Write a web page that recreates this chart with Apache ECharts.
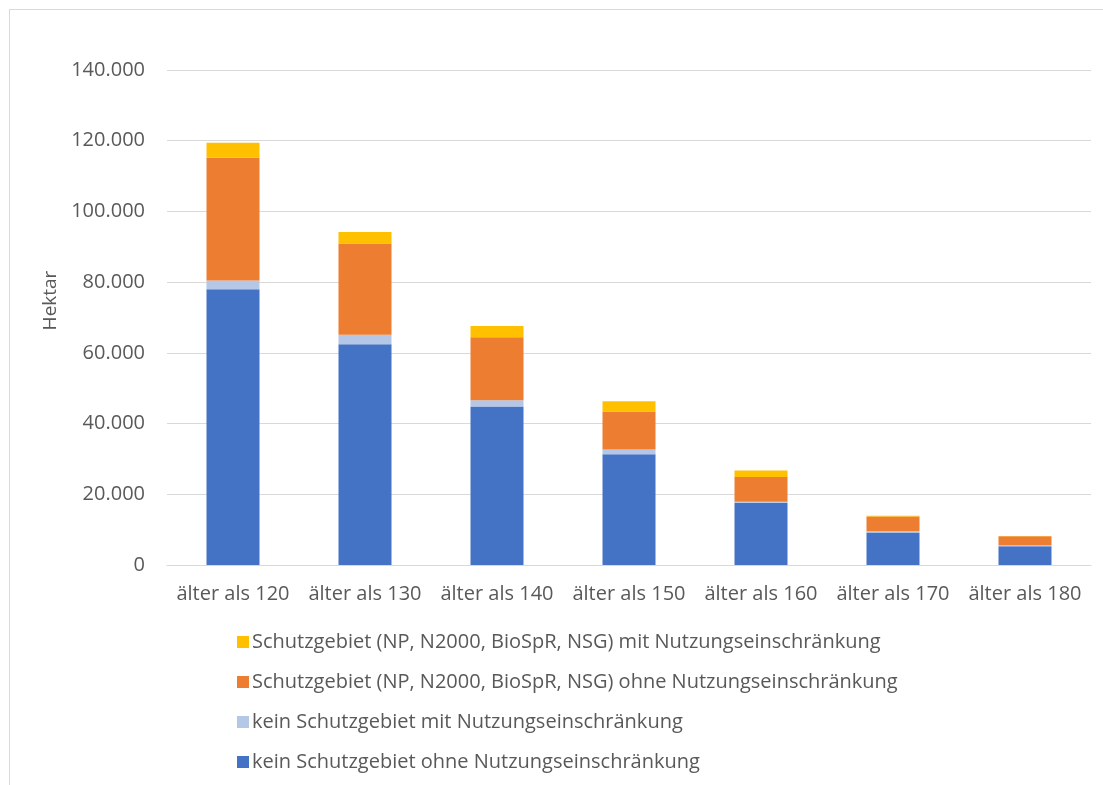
<!DOCTYPE html>
<html>
<head>
<meta charset="utf-8">
<script src="https://cdn.jsdelivr.net/npm/echarts@6/dist/echarts.min.js"></script>
<style>
  html, body { margin: 0; padding: 0; background: #fff; }
  #frame { position: absolute; left: 9px; top: 9px; width: 1100px; height: 790px; border-left: 1px solid #d9d9d9; border-top: 1px solid #d9d9d9; }
  #chart { position: absolute; left: 0; top: 0; width: 1103px; height: 785px; }
</style>
</head>
<body>
<div id="frame"></div>
<div id="chart"></div>
<script>
// Altersklassen
const categories = ['älter als 120', 'älter als 130', 'älter als 140', 'älter als 150', 'älter als 160', 'älter als 170', 'älter als 180'];

// Hektar je Kategorie
const keinOhne = [78000, 62400, 44800, 31300, 17600, 9200, 5300];
const keinMit = [2500, 2700, 1800, 1400, 300, 400, 300];
const schutzOhne = [34700, 25800, 17800, 10700, 7000, 4150, 2500];
const schutzMit = [4200, 3300, 3200, 2900, 1800, 150, 100];

const names = [
    'kein Schutzgebiet ohne Nutzungseinschränkung',
    'kein Schutzgebiet mit Nutzungseinschränkung',
    'Schutzgebiet (NP, N2000, BioSpR, NSG) ohne Nutzungseinschränkung',
    'Schutzgebiet (NP, N2000, BioSpR, NSG) mit Nutzungseinschränkung'
];
const colors = ['#4472C4', '#B4C7E7', '#ED7D31', '#FFC000'];

const font = '"Open Sans", "Noto Sans", sans-serif';

const fmt = (v) => v.toLocaleString('de-DE');

const chart = echarts.init(document.getElementById('chart'));

const makeSeries = (name, data, color) => ({
    name: name,
    type: 'bar',
    stack: 'total',
    data: data,
    barWidth: 53,
    itemStyle: { color: color },
    emphasis: { disabled: true }
});

chart.setOption({
    animation: false,
    textStyle: { fontFamily: font },
    grid: { left: 167, right: 12, top: 70, bottom: 220 },
    legend: {
        orient: 'vertical',
        left: 232,
        top: 627,
        itemWidth: 12,
        itemHeight: 12,
        itemGap: 20,
        icon: 'rect',
        data: [names[3], names[2], names[1], names[0]],
        textStyle: { fontSize: 20, color: '#595959', fontFamily: font, padding: [0, 0, 0, -2] }
    },
    xAxis: {
        type: 'category',
        data: categories,
        axisLine: { lineStyle: { color: '#d9d9d9', width: 1 } },
        axisTick: { show: false },
        axisLabel: { interval: 0, fontSize: 20, color: '#595959', margin: 19, fontFamily: font }
    },
    yAxis: {
        type: 'value',
        min: 0,
        max: 140000,
        interval: 20000,
        name: 'Hektar',
        nameLocation: 'middle',
        nameGap: 106,
        nameTextStyle: { fontSize: 19, color: '#595959', fontFamily: font, padding: [0, 0, 0, 34] },
        axisLine: { show: false },
        axisTick: { show: false },
        splitLine: { lineStyle: { color: '#d9d9d9', width: 1 } },
        axisLabel: { fontSize: 20, color: '#595959', margin: 22, fontFamily: font, formatter: fmt }
    },
    series: [
        makeSeries(names[0], keinOhne, colors[0]),
        makeSeries(names[1], keinMit, colors[1]),
        makeSeries(names[2], schutzOhne, colors[2]),
        makeSeries(names[3], schutzMit, colors[3])
    ]
});
</script>
</body>
</html>
